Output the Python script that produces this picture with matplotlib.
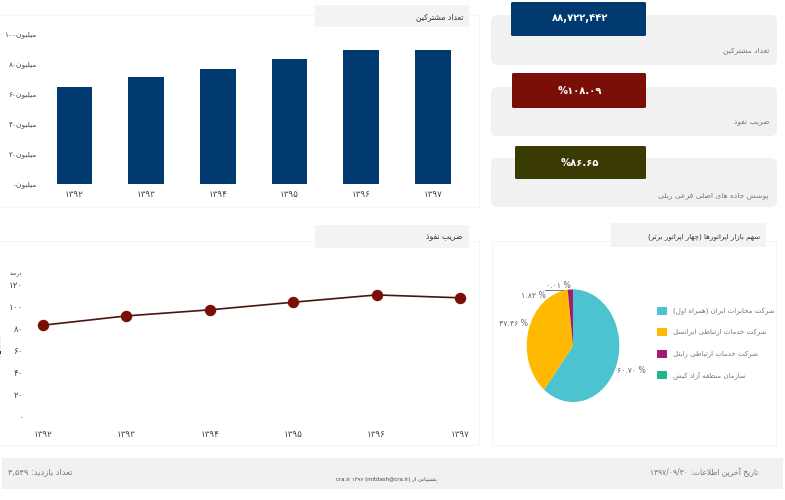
import re
import unicodedata
import matplotlib
matplotlib.use("Agg")
import matplotlib.pyplot as plt
from matplotlib.patches import FancyBboxPatch, Rectangle

# ---------- data ----------
years = ["۱۳۹۲", "۱۳۹۳", "۱۳۹۴", "۱۳۹۵", "۱۳۹۶", "۱۳۹۷"]
subscribers = [64.2, 71.1, 76.2, 83.3, 88.8, 88.9]
sub_ticks = [0, 20, 40, 60, 80, 100]
sub_tick_labels = ["میلیون۰", "میلیون۲۰", "میلیون۴۰", "میلیون۶۰", "میلیون۸۰", "میلیون۱۰۰"]
penetration = [82.7, 91.1, 96.6, 103.5, 110.1, 107.5]
pen_ticks = [0, 20, 40, 60, 80, 100, 120]
pen_tick_labels = ["۰", "۲۰", "۴۰", "۶۰", "۸۰", "۱۰۰", "۱۲۰"]
operators = ["شرکت مخابرات ایران (همراه اول)", "شرکت خدمات ارتباطی ایرانسل",
             "شرکت خدمات ارتباطی رایتل", "سازمان منطقه آزاد کیش"]
shares = [60.70, 37.46, 1.82, 0.01]
share_labels = ["۶۰.۷۰ %", "۳۷.۴۶ %", "۱.۸۲ %", "۰.۰۱ %"]
share_colors = ["#4DC3D0", "#FFB900", "#A31C6C", "#1FB58F"]
kpi_values = ["۸۸,۷۲۲,۴۴۲", "%۱۰۸.۰۹", "%۸۶.۶۵"]
kpi_titles = ["تعداد مشترکین", "ضریب نفوذ", "پوشش جاده های اصلی فرعی ریلی"]
kpi_colors = ["#003A70", "#7A0F08", "#3A3A05"]

W, H = 785, 500
RIGHT_JOIN = set("اآأإدذرزژوؤة")


def _form(ch, suffix):
    try:
        return unicodedata.lookup(unicodedata.name(ch) + " " + suffix + " FORM")
    except KeyError:
        return ch


def _is_ar(c):
    return "\u0620" <= c <= "\u06ff" and not ("\u06f0" <= c <= "\u06f9")


def _shape(s):
    out = []
    i = 0
    while i < len(s):
        c = s[i]
        if not _is_ar(c):
            out.append(c)
            i += 1
            continue
        prev = s[i - 1] if i else ""
        joins_prev = bool(prev) and _is_ar(prev) and prev not in RIGHT_JOIN
        if c == "ل" and i + 1 < len(s) and s[i + 1] == "ا":
            out.append("\uFEFC" if joins_prev else "\uFEFB")
            i += 2
            continue
        nxt = s[i + 1] if i + 1 < len(s) else ""
        joins_next = bool(nxt) and _is_ar(nxt) and c not in RIGHT_JOIN
        suffix = {(0, 0): "ISOLATED", (1, 0): "FINAL", (0, 1): "INITIAL", (1, 1): "MEDIAL"}[(int(joins_prev), int(joins_next))]
        out.append(_form(c, suffix))
        i += 1
    return "".join(out)


LTR_RUN = re.compile(r"[0-9۰-۹A-Za-z][0-9۰-۹A-Za-z@.,/]*")


def fa(s):
    """Logical Persian text -> shaped, visual-order text."""
    s = _shape(s)
    parts = []
    pos = 0
    mirror = str.maketrans("()", ")(")
    for m in LTR_RUN.finditer(s):
        parts.append(s[pos:m.start()][::-1].translate(mirror))
        parts.append(m.group())
        pos = m.end()
    parts.append(s[pos:][::-1].translate(mirror))
    return "".join(reversed(parts))


plt.rcParams["font.family"] = "DejaVu Sans"
fig = plt.figure(figsize=(W / 100, H / 100), dpi=100, facecolor="white")


def axpx(x0, y0, x1, y1, **kw):
    return fig.add_axes([x0 / W, 1 - y1 / H, (x1 - x0) / W, (y1 - y0) / H], **kw)


bg = axpx(0, 0, W, H)
bg.set_xlim(0, W)
bg.set_ylim(H, 0)
bg.axis("off")


def rect(x0, y0, x1, y1, fc, ec="none", lw=0.8, z=1):
    bg.add_patch(Rectangle((x0, y0), x1 - x0, y1 - y0, fc=fc, ec=ec, lw=lw, zorder=z))


def rrect(x0, y0, x1, y1, fc, r=4, z=2):
    bg.add_patch(FancyBboxPatch((x0 + r, y0 + r), x1 - x0 - 2 * r, y1 - y0 - 2 * r,
                                boxstyle=f"round,pad={r},rounding_size={r}",
                                fc=fc, ec="none", zorder=z))


def label(x, y, s, size=6.5, color="#555555", ha="center", **kw):
    bg.text(x, y, s, fontsize=size, color=color, ha=ha, va="center", zorder=6, **kw)


FRAME = "#F5F5F5"
TAB = "#F3F3F3"
rect(-2, 15, 479, 207, "white", FRAME)
rect(-2, 241, 479, 445, "white", FRAME)
rect(492, 241, 776, 445, "white", FRAME)
rect(315, 5, 469, 27, TAB, z=3)
rect(315, 225, 469, 248, TAB, z=3)
rect(611, 223, 766, 247, TAB, z=3)
label(463, 17, fa("تعداد مشترکین"), 5.6, "#333333", "right")
label(463, 237, fa("ضریب نفوذ"), 5.6, "#333333", "right")
label(760, 237, fa("سهم بازار اپراتورها (چهار اپراتور برتر)"), 5.1, "#333333", "right")

# KPI cards
card_y = [(15, 65), (87, 136), (158, 207)]
box_y = [(2, 36), (73, 108), (146, 179)]
box_x = [511, 512, 515]
text_y = [18, 91, 163]
title_y = [51, 123, 196]
for i in range(3):
    rrect(491, card_y[i][0], 777, card_y[i][1], "#F1F1F1", r=6)
    rrect(box_x[i], box_y[i][0], 646, box_y[i][1], kpi_colors[i], r=1.5, z=3)
    label(580, text_y[i], kpi_values[i], 7.2, "white", fontweight="bold")
    label(769, title_y[i], fa(kpi_titles[i]), 5.4, "#777777", "right")

# Subscribers bars
ax1 = axpx(38.5, 33.5, 469.5, 184)
ax1.patch.set_alpha(0)
ax1.bar(range(len(years)), subscribers, width=0.497, color="#003A70")
ax1.set_xlim(-0.502, 5.51)
ax1.set_ylim(0, 100)
ax1.set_xticks(range(len(years)), years)
ax1.set_yticks(sub_ticks, [fa(t) for t in sub_tick_labels])
ax1.tick_params(length=0, labelsize=5.4, labelcolor="#444444")
ax1.tick_params(axis="x", labelsize=6.3, pad=4)
ax1.tick_params(axis="y", pad=1.2)
for s in ax1.spines.values():
    s.set_visible(False)

# Penetration line
ax2 = axpx(25, 284, 470, 416.5)
ax2.patch.set_alpha(0)
ax2.plot(range(len(years)), penetration, color="#4A1410", lw=1.2, marker="o",
         ms=7.2, mfc="#7A0F08", mec="#7A0F08", clip_on=False)
ax2.set_xlim(-0.216, 5.12)
ax2.set_ylim(0, 120)
ax2.set_xticks(range(len(years)), years)
ax2.set_yticks(pen_ticks, pen_tick_labels)
ax2.tick_params(length=0, labelsize=6.3, labelcolor="#444444")
ax2.tick_params(axis="x", pad=10)
ax2.tick_params(axis="y", pad=1.5)
for s in ax2.spines.values():
    s.set_visible(False)
label(16, 274.5, fa("درصد"), 4, "#444444")
rect(0, 337, 1.2, 361, "#EEEEEE", z=3)
rect(0, 351, 1.2, 354, "#333333", z=4)

# Market share pie
ax3 = axpx(526.7, 289.4, 619.3, 402)
ax3.patch.set_alpha(0)
wedges, _ = ax3.pie(shares, colors=share_colors, startangle=90, counterclock=False, radius=1)
ax3.set_aspect("auto")
ax3.set_xlim(-1, 1)
ax3.set_ylim(-1, 1)
label_pos = [(631, 370.5), (513.5, 324), (533.5, 295.5), (558, 285)]
for (x, y), s in zip(label_pos, share_labels):
    label(x, y, s, 5.6, "#666666")
bg.plot([545, 568], [290, 290], color="#777777", lw=0.7, zorder=6)
fig.legend(wedges, [fa(o) for o in operators], loc="upper left",
           bbox_to_anchor=(657 / W, 1 - 307 / H), frameon=False, fontsize=5,
           labelcolor="#777777", handlelength=1.44, handleheight=1.44,
           handletextpad=0.86, labelspacing=1.88, borderpad=0, borderaxespad=0)

# Footer
rect(2, 458, 783, 489, "#F1F1F1")
label(73, 472, fa("تعداد بازدید: ۳,۵۴۹"), 6.0, "#777777", "right")
label(758, 472, fa("تاریخ آخرین اطلاعات: ۱۳۹۷/۰۹/۳۰"), 5.5, "#777777", "right")
label(387, 479, fa("پشتیبانی از (mitdash@cra.ir) ۱۳۹۷ cra.ir"), 3.9, "#444444")

fig.savefig("out.png", dpi=100)
